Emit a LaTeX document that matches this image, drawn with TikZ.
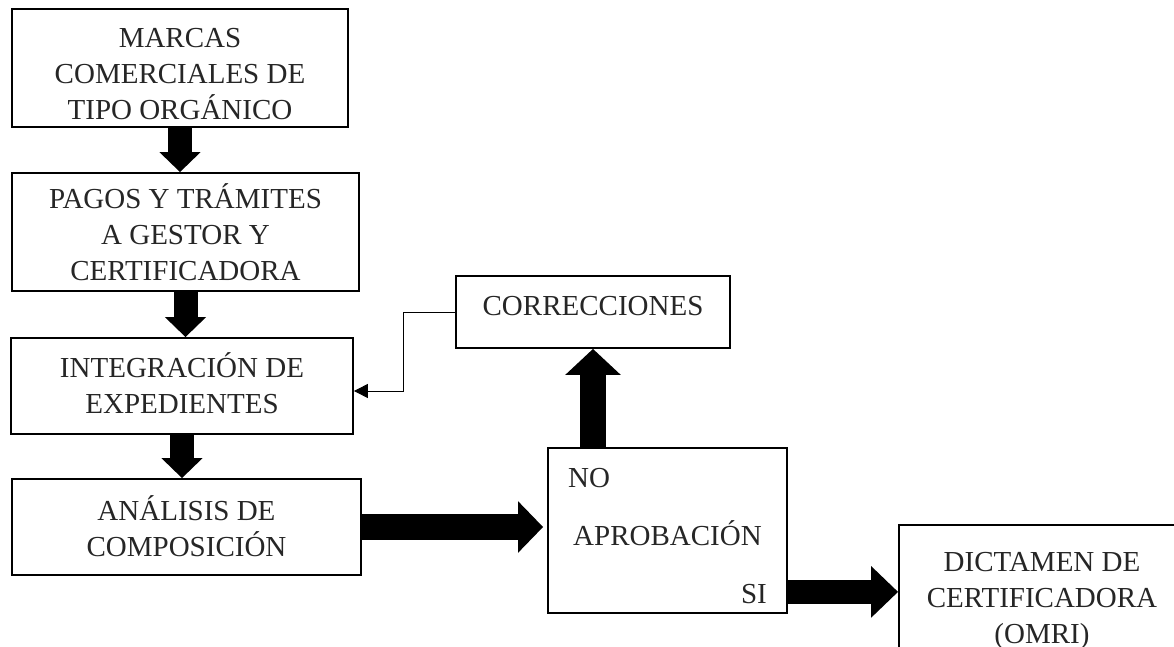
\documentclass[tikz,border=0pt]{standalone}
\usepackage{fontspec}
\setmainfont{Liberation Serif}
\usetikzlibrary{arrows.meta,calc}
\tikzset{
  box/.style={draw, line width=1.8pt, inner sep=0pt, align=center,
    font=\fontsize{29}{36}\selectfont, text=black!85},
  lbl/.style={inner sep=0pt, font=\fontsize{29}{36}\selectfont, text=black!85},
  vfat/.style={line width=24pt, -{Triangle[length=20pt,width=40pt]}},
  hfat/.style={line width=26pt, -{Triangle[length=25pt,width=50pt]}},
  ufat/.style={line width=26pt, -{Triangle[length=26pt,width=54pt]}},
  sfat/.style={line width=24pt, -{Triangle[length=27pt,width=50pt]}},
  thin/.style={line width=1pt, -{Triangle[length=14pt,width=14pt]}}
}
\begin{document}
\begin{tikzpicture}[x=1pt,y=-1pt]
\clip (0,0) rectangle (1174,647);
\fill[white] (0,0) rectangle (1174,647);
\node[box, minimum width=336pt, minimum height=118pt, text height=104pt, text depth=0pt] (b1) at (180,68)
  {MARCAS\\COMERCIALES DE\\TIPO ORGÁNICO};
\node[box, minimum width=347pt, minimum height=118pt, text height=96pt, text depth=0pt] (b2) at (185.5,232)
  {PAGOS Y TRÁMITES\\A GESTOR Y\\CERTIFICADORA};
\node[box, minimum width=342pt, minimum height=96pt, text height=54pt, text depth=0pt] (b3) at (182,386)
  {INTEGRACIÓN DE\\EXPEDIENTES};
\node[box, minimum width=349pt, minimum height=96pt, text height=58pt, text depth=0pt] (b4) at (186.5,527)
  {ANÁLISIS DE\\COMPOSICIÓN};
\node[box, minimum width=274pt, minimum height=72pt, text height=12pt, text depth=6pt] (corr) at (593,312)
  {CORRECCIONES};
\node[box, minimum width=239pt, minimum height=165pt, text height=29pt, text depth=0pt] (aprob) at (667.5,530.5)
  {APROBACIÓN};
\node[lbl, anchor=base west] (no) at (568,487) {NO};
\node[lbl, anchor=base east] (si) at (767,603) {SI};
\node[box, minimum width=286pt, minimum height=160pt, text height=76pt, text depth=0pt] (dict) at (1042,605)
  {DICTAMEN DE\\CERTIFICADORA\\(OMRI)};
% fat arrows
\draw[vfat] (b1.south) -- (b1.south |- b2.north);
\draw[vfat] (b2.south) -- (b2.south |- b3.north);
\draw[vfat] (b3.south) -- (b3.south |- b4.north);
\draw[hfat, shorten >=4pt] (b4.east) -- (b4.east -| aprob.west);
\draw[ufat] (corr.south |- aprob.north) -- (corr.south);
\coordinate (siout) at ($(aprob.south east)+(0,-22)$);
\draw[sfat] (siout) -- (siout -| dict.west);
% thin feedback
\coordinate (c3) at ($(b3.east)+(0,5)$);
\draw[thin] (corr.west) -- ++(-52,0) |- (c3);
\end{tikzpicture}
\end{document}
